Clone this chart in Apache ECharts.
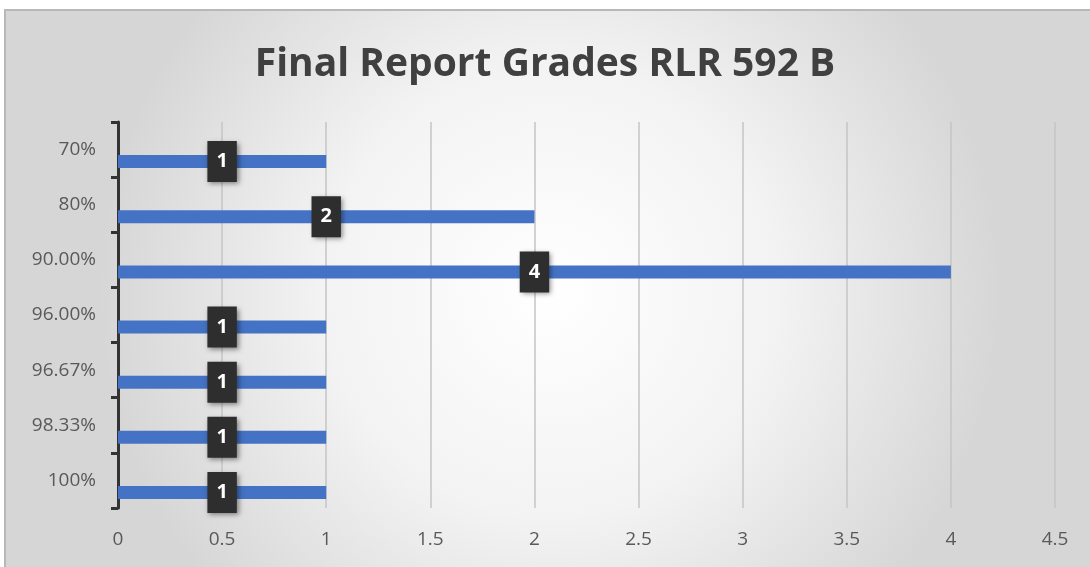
<!DOCTYPE html>
<html>
<head>
<meta charset="utf-8">
<script src="https://cdn.jsdelivr.net/npm/echarts@6/dist/echarts.min.js"></script>
<style>
  html, body { margin: 0; padding: 0; background: #fff; }
  #chart { width: 1090px; height: 567px; }
</style>
</head>
<body>
<div id="chart"></div>
<script>
const categories = ['70%', '80%', '90.00%', '96.00%', '96.67%', '98.33%', '100%'];
const counts = [1, 2, 4, 1, 1, 1, 1];
const xTicks = { min: 0, max: 4.5, interval: 0.5 };

const chart = echarts.init(document.getElementById('chart'));

const labelFont = '"Open Sans", sans-serif';

const option = {
  animation: false,
  graphic: [{
    type: 'rect',
    z: -10,
    silent: true,
    shape: { x: 5, y: 10, width: 1090, height: 562 },
    style: {
      fill: {
        type: 'radial', x: 0.5, y: 0.5, r: 0.8,
        colorStops: [
          { offset: 0, color: '#ffffff' },
          { offset: 0.5, color: '#f3f3f3' },
          { offset: 1, color: '#d6d6d6' }
        ]
      },
      stroke: '#b8b8b8',
      lineWidth: 2
    }
  }],
  title: {
    text: 'Final Report Grades RLR 592 B',
    left: 'center',
    top: 40,
    textStyle: {
      fontFamily: '"Open Sans", sans-serif',
      fontSize: 39,
      fontWeight: 'bold',
      color: '#404040'
    }
  },
  grid: { left: 118, right: 35, top: 122, bottom: 59 },
  xAxis: {
    type: 'value',
    min: xTicks.min,
    max: xTicks.max,
    interval: xTicks.interval,
    axisLine: { show: false },
    axisTick: { show: false },
    splitLine: { show: true, lineStyle: { color: '#c4c4c4', width: 1.5 } },
    axisLabel: { color: '#595959', fontSize: 19, fontFamily: labelFont, margin: 22 }
  },
  yAxis: {
    type: 'category',
    inverse: true,
    data: categories,
    axisLine: { show: true, lineStyle: { color: '#333', width: 3 } },
    axisTick: { show: true, length: 7, lineStyle: { color: '#333', width: 3 } },
    axisLabel: { color: '#595959', fontSize: 19, fontFamily: labelFont, margin: 22 }
  },
  series: [
    {
      name: 'spacer',
      type: 'bar',
      barWidth: 13,
      barGap: '85%',
      silent: true,
      data: categories.map(() => '-')
    },
    {
      name: 'Count',
      type: 'bar',
      barWidth: 13,
      itemStyle: { color: '#4472c4' },
      label: {
        show: true,
        position: 'inside',
        color: '#fff',
        fontSize: 20,
        fontWeight: 'bold',
        fontFamily: labelFont,
        backgroundColor: '#2e2e2e',
        padding: [11, 9],
        lineHeight: 19,
        shadowColor: 'rgba(0,0,0,0.45)',
        shadowBlur: 5,
        shadowOffsetX: 2,
        shadowOffsetY: 2
      },
      data: counts
    }
  ]
};

chart.setOption(option);
</script>
</body>
</html>
